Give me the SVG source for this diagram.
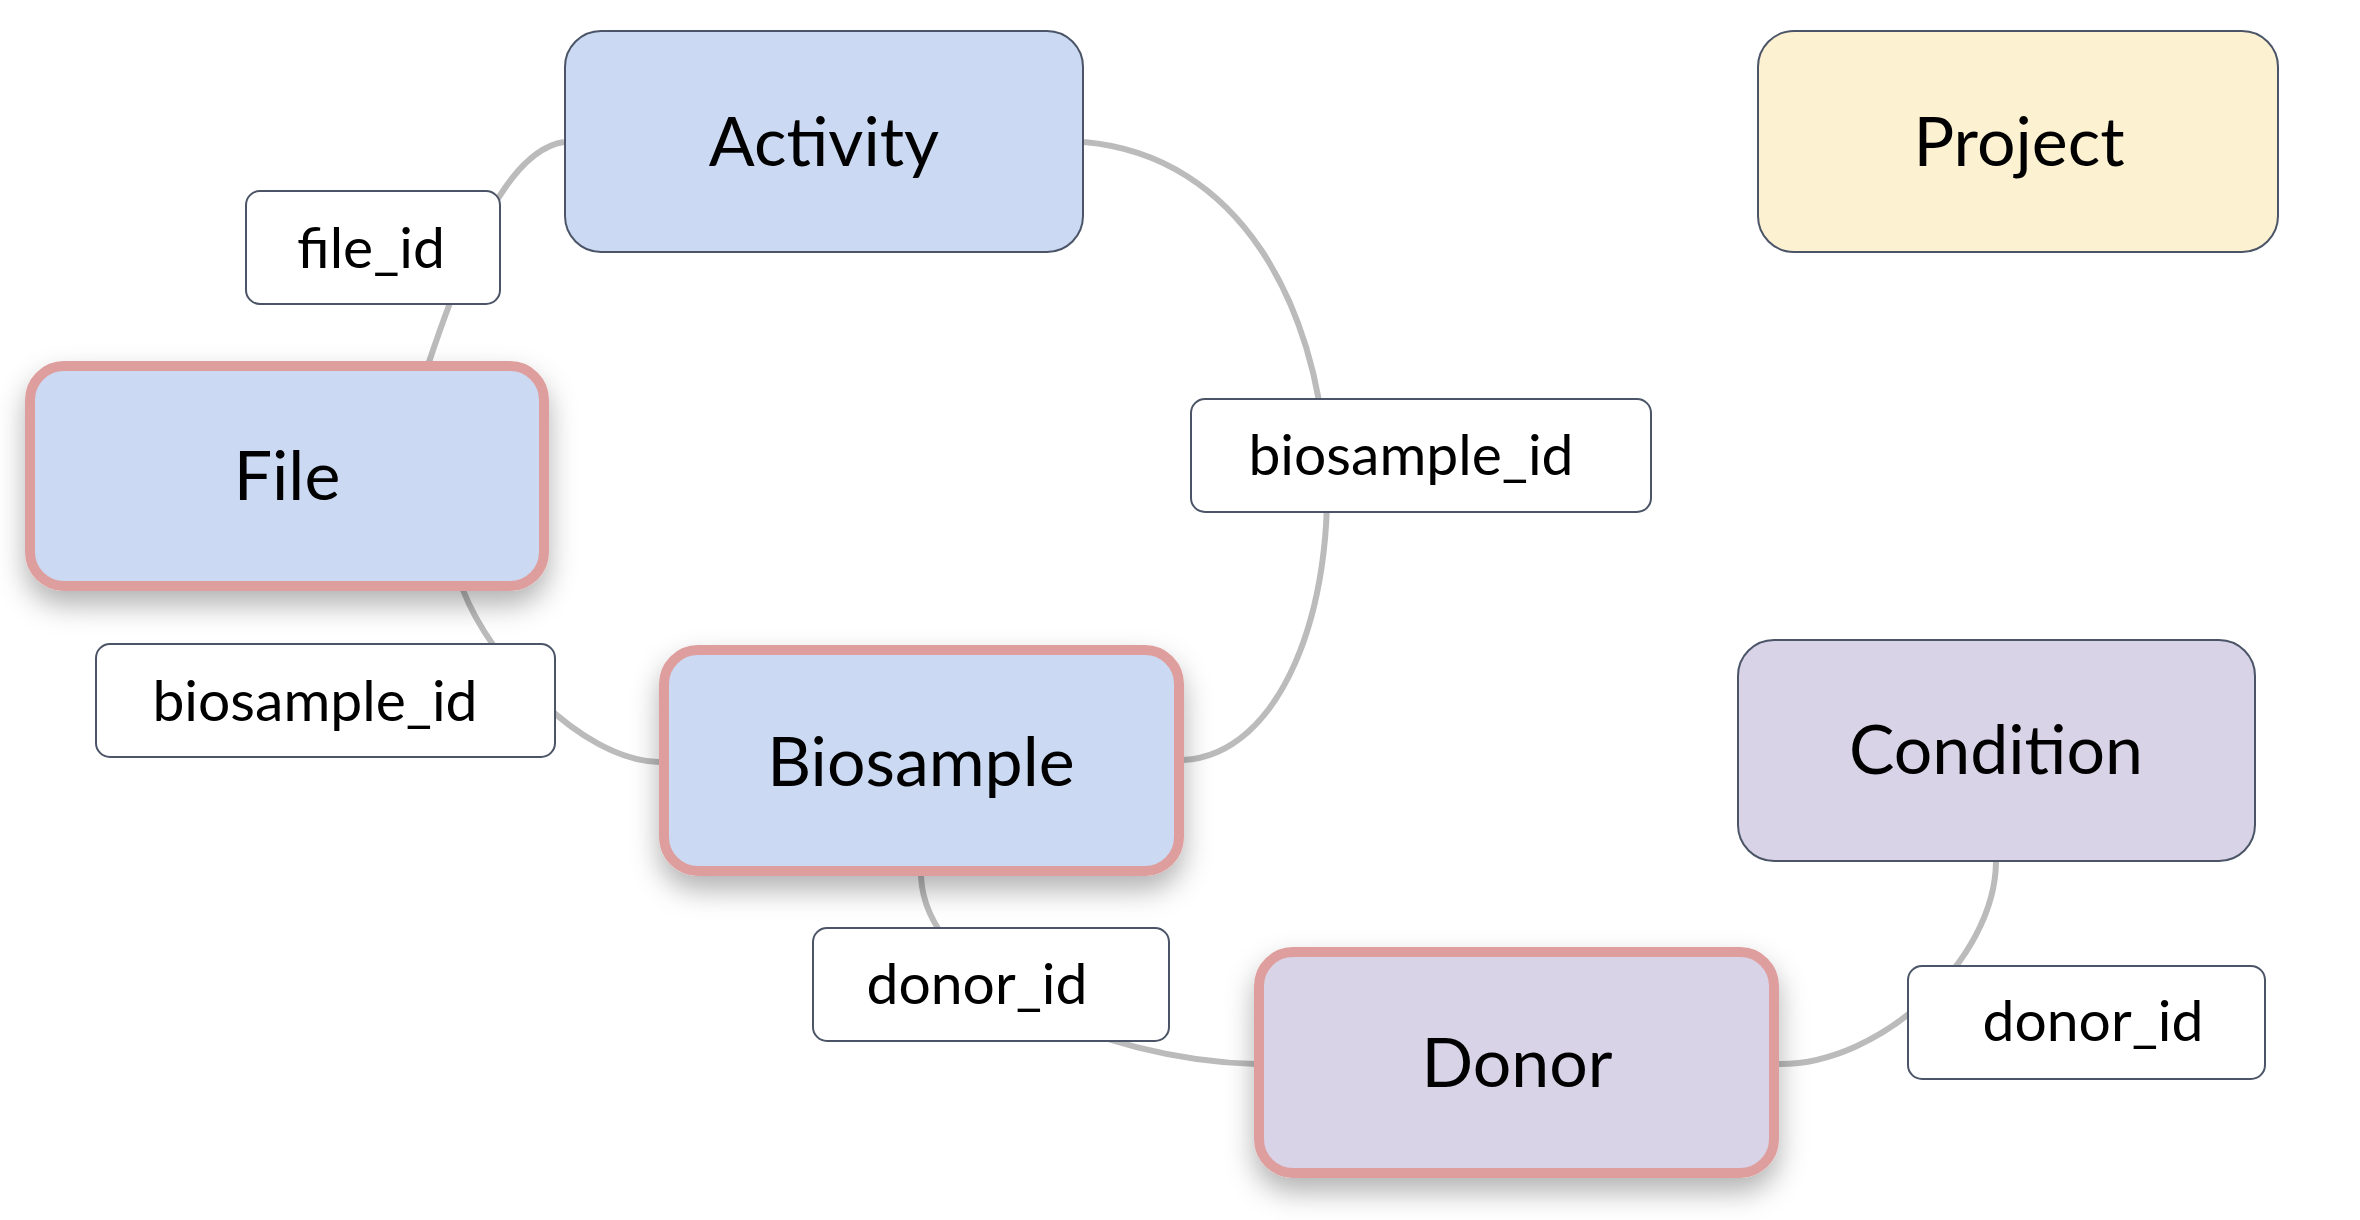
<svg xmlns="http://www.w3.org/2000/svg" width="2360" height="1220" viewBox="0 0 2360 1220">
<style>
.edge{fill:none;stroke:#bbbbbb;stroke-width:6}
.node{stroke:#4b5567;stroke-width:2}
.hl{stroke:#de9e9d;stroke-width:10;filter:url(#sh)}
.blue{fill:#cbd9f2}
.purple{fill:#d8d3e7}
.yellow{fill:#fcf1d1}
.lbl{fill:#ffffff;stroke:#4b5567;stroke-width:2}
.nt{font-family:Lato,"Noto Sans","Liberation Sans",sans-serif;font-weight:400;font-size:68px;fill:#000;text-anchor:middle}
.lt{font-family:Lato,"Noto Sans","Liberation Sans",sans-serif;font-weight:400;font-size:57px;fill:#000;text-anchor:middle}
</style>
<defs>
<filter id="sh" x="-20%" y="-20%" width="140%" height="160%">
<feDropShadow dx="0" dy="14" stdDeviation="14" flood-color="#000" flood-opacity="0.3"/>
</filter>
</defs>
<rect width="2360" height="1220" fill="#ffffff"/>
<g id="connectors">
<path class="edge" d="M564,142 C510,150 470,240 429,362"/>
<path class="edge" d="M463,590 C490,660 580,760 659,762"/>
<path class="edge" d="M921,876 C925,980 1100,1060 1256,1064"/>
<path class="edge" d="M1779,1064 C1880,1065 1995,960 1996,862"/>
<path class="edge" d="M1183,760 C1380,750 1400,170 1084,142"/>
</g>
<g id="node-activity">
<rect class="node blue" x="565" y="31" width="518" height="221" rx="36"/>
<text class="nt" x="824" y="166">Activity</text>
</g>
<g id="node-project">
<rect class="node yellow" x="1758" y="31" width="520" height="221" rx="36"/>
<text class="nt" x="2019" y="166">Project</text>
</g>
<g id="node-file">
<rect class="hl blue" x="30" y="366" width="514" height="220" rx="34"/>
<text class="nt" x="287" y="500">File</text>
</g>
<g id="node-biosample">
<rect class="hl blue" x="664" y="650" width="515" height="221" rx="34"/>
<text class="nt" x="921" y="786">Biosample</text>
</g>
<g id="node-condition">
<rect class="node purple" x="1738" y="640" width="517" height="221" rx="36"/>
<text class="nt" x="1996" y="774">Condition</text>
</g>
<g id="node-donor">
<rect class="hl purple" x="1259" y="952" width="515" height="221" rx="34"/>
<text class="nt" x="1517" y="1087">Donor</text>
</g>
<g id="label-file_id">
<rect class="lbl" x="246" y="191" width="254" height="113" rx="14"/>
<text class="lt" x="371" y="268">file_id</text>
</g>
<g id="label-biosample_id-1">
<rect class="lbl" x="96" y="644" width="459" height="113" rx="14"/>
<text class="lt" x="315" y="721">biosample_id</text>
</g>
<g id="label-biosample_id-2">
<rect class="lbl" x="1191" y="399" width="460" height="113" rx="14"/>
<text class="lt" x="1411" y="475">biosample_id</text>
</g>
<g id="label-donor_id-1">
<rect class="lbl" x="813" y="928" width="356" height="113" rx="14"/>
<text class="lt" x="977" y="1004">donor_id</text>
</g>
<g id="label-donor_id-2">
<rect class="lbl" x="1908" y="966" width="357" height="113" rx="14"/>
<text class="lt" x="2093" y="1041">donor_id</text>
</g>
</svg>
